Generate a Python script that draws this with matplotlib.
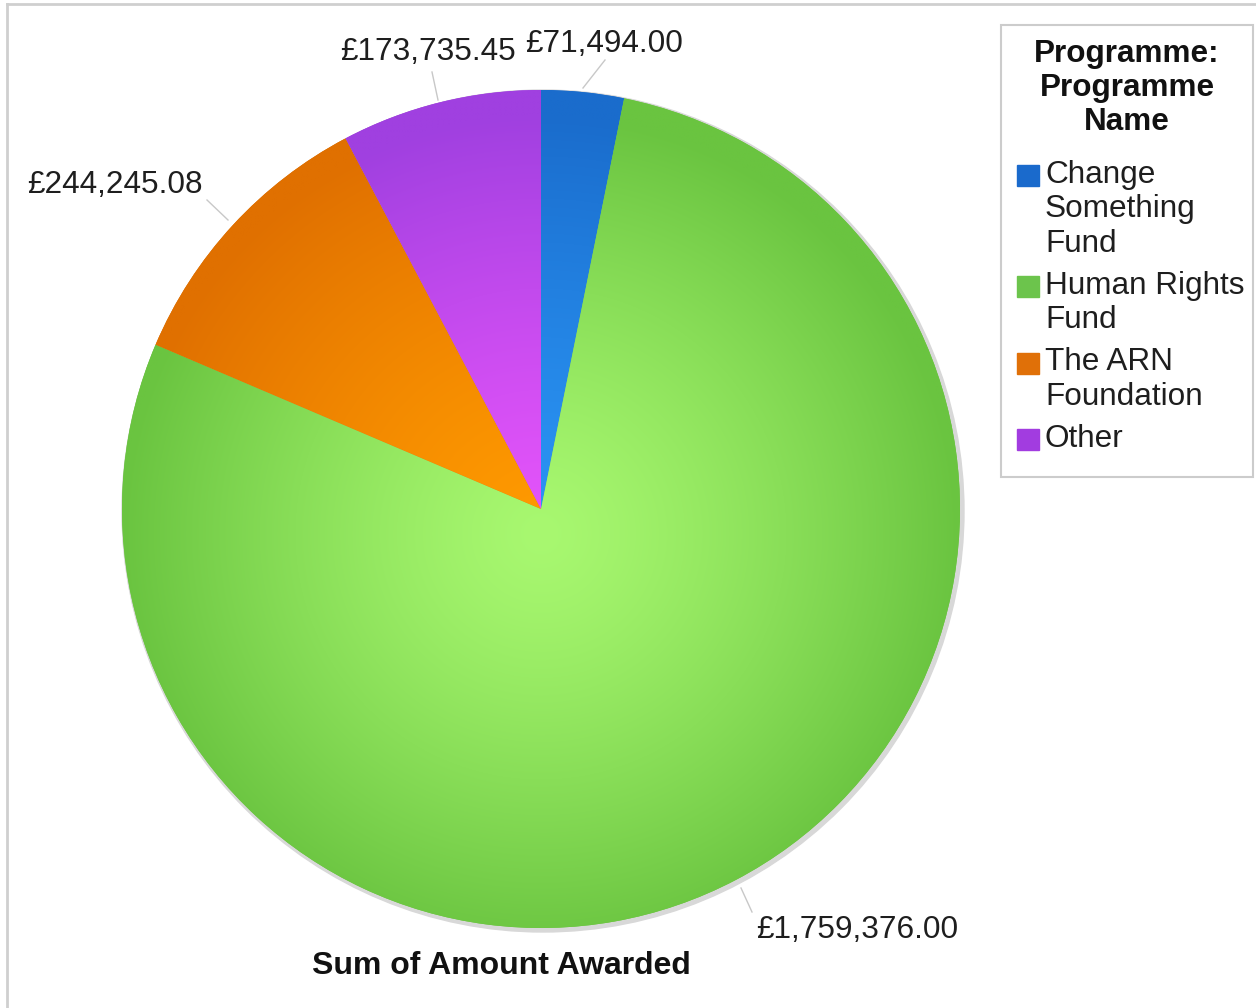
import numpy as np
import matplotlib.pyplot as plt
from matplotlib.patches import Rectangle, Circle
from matplotlib.lines import Line2D

plt.rcParams['font.family'] = ['Liberation Sans', 'DejaVu Sans']

# Data
programmes = ['Change\nSomething\nFund', 'Human Rights\nFund', 'The ARN\nFoundation', 'Other']
amounts = [71494.00, 1759376.00, 244245.08, 173735.45]
value_labels = ['£71,494.00', '£1,759,376.00', '£244,245.08', '£173,735.45']
outer_colors = ['#1a6ccc', '#6ac440', '#e07000', '#a040e0']
inner_colors = ['#2a94f4', '#a8f870', '#ff9a00', '#e454fa']
legend_colors = ['#1a6acc', '#6cc44c', '#e07008', '#a23ce0']

W, H = 1256, 1008
CX, CY, R = 541, H - 509, 419

fig = plt.figure(figsize=(W / 100, H / 100), dpi=100)
ax = fig.add_axes([0, 0, 1, 1])

# frame lines of the original screenshot
ax.add_line(Line2D([7, 7], [0, H - 4], color='#cfcfcf', lw=2))
ax.add_line(Line2D([7, W], [H - 4, H - 4], color='#cfcfcf', lw=2))

# faint shadow
ax.add_patch(Circle((CX + 2, CY - 2), R + 2, color='#d8d8d8', zorder=1))

wedges, _ = ax.pie(amounts, center=(CX, CY), radius=R, startangle=90,
                   counterclock=False, colors=outer_colors,
                   wedgeprops=dict(linewidth=0), frame=True)
ax.set_xlim(0, W)
ax.set_ylim(0, H)
ax.set_aspect('equal')
ax.axis('off')

# radial gradient shading inside each wedge
n = 600
xs = np.linspace(CX - R, CX + R, n)
ys = np.linspace(CY - R, CY + R, n)
gx, gy = np.meshgrid(xs, ys)
rr = np.clip(np.hypot(gx - CX, gy - (CY - 25)) / R, 0, 1) ** 1.3
for w, ci, co in zip(wedges, inner_colors, outer_colors):
    a = np.array(plt.matplotlib.colors.to_rgb(ci))
    b = np.array(plt.matplotlib.colors.to_rgb(co))
    img = a + (b - a) * rr[..., None]
    im = ax.imshow(img, extent=(CX - R, CX + R, CY - R, CY + R),
                   origin='lower', zorder=3, interpolation='bilinear')
    im.set_clip_path(w)

# value labels with leader lines
label_pos = [(604, 44), (857, 930), (115, 185), (428, 52)]
line_start = [(583, 88), (741, 888), (228, 220), (438, 100)]
line_end = [(605, 60), (752, 912), (207, 200), (432, 72)]
for txt, (lx, ly), (sx, sy), (ex, ey) in zip(value_labels, label_pos, line_start, line_end):
    ax.add_line(Line2D([sx, ex], [H - sy, H - ey], color='#c8c8c8', lw=1, zorder=4))
    ax.text(lx, H - ly, txt, ha='center', va='center', fontsize=22.7, color='#1e1e1e', zorder=5)

ax.text(501, H - 966, 'Sum of Amount Awarded', ha='center', va='center',
        fontsize=23, fontweight='bold', color='#111111')

# legend box
ax.add_patch(Rectangle((1001, H - 477), 252, 452, fill=False, ec='#cccccc', lw=1.5))
for i, line in enumerate(['Programme:', 'Programme', 'Name']):
    ax.text(1127, H - (54 + 34 * i), line, ha='center', va='center',
            fontsize=22.7, fontweight='bold', color='#111111')

y = 175
for name, col in zip(programmes, legend_colors):
    ax.add_patch(Rectangle((1017, H - y - 11), 22, 21, color=col))
    for j, part in enumerate(name.split('\n')):
        ax.text(1045, H - (y + 34.5 * j), part, ha='left', va='center',
                fontsize=22.7, color='#1e1e1e')
    y += 34.5 * (len(name.split('\n')) - 1) + 42

plt.savefig('out.png', dpi=100)
